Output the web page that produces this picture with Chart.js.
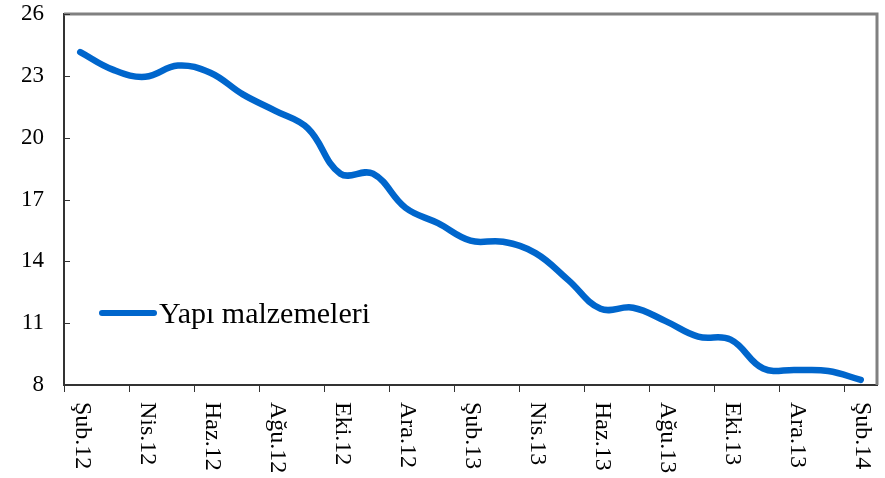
<html>
  <head>
    <script src="https://cdn.jsdelivr.net/npm/chart.js"></script>
    <style>
      body { margin: 0; background: #fff; }
      #wrap { width: 885px; height: 478px; }
    </style>
  </head>
  <body>
    <div id="wrap"><canvas id="myChart"></canvas></div>
    <script>
      // monthly, Feb 2012 - Feb 2014
      const months = ['Şub.12', 'Mar.12', 'Nis.12', 'May.12', 'Haz.12', 'Tem.12', 'Ağu.12', 'Eyl.12', 'Eki.12', 'Kas.12', 'Ara.12', 'Oca.13',
        'Şub.13', 'Mar.13', 'Nis.13', 'May.13', 'Haz.13', 'Tem.13', 'Ağu.13', 'Eyl.13', 'Eki.13', 'Kas.13', 'Ara.13', 'Oca.14', 'Şub.14'];
      const yapiMalzemeleri = [24.15, 23.3, 22.95, 23.5, 23.15, 22.1, 21.3, 20.45, 18.25, 18.25, 16.6, 15.85,
        15.0, 14.95, 14.4, 13.1, 11.7, 11.75, 11.1, 10.35, 10.2, 8.8, 8.73, 8.68, 8.25];
      const yTicks = [8, 11, 14, 17, 20, 23, 26];

      const serif = '"Liberation Serif", "Times New Roman", serif';
      const blue = 'rgb(0, 102, 204)';

      const data = {
        labels: months,
        datasets: [{
          label: 'Yapı malzemeleri',
          data: yapiMalzemeleri,
          fill: false,
          borderColor: blue,
          borderWidth: 6.5,
          tension: 0.4,
          pointRadius: 0,
          borderCapStyle: 'round',
          borderJoinStyle: 'round'
        }]
      };

      // frame, inner y ticks, rotated x labels and the legend
      const extras = {
        id: 'extras',
        beforeDatasetsDraw(chart) {
          const { ctx, chartArea: a, scales } = chart;
          ctx.save();
          ctx.strokeStyle = '#808080';
          ctx.lineWidth = 3;
          ctx.beginPath();
          ctx.moveTo(a.left, a.top);
          ctx.lineTo(a.right, a.top);
          ctx.lineTo(a.right, a.bottom);
          ctx.stroke();
          ctx.strokeStyle = '#333';
          ctx.lineWidth = 1;
          yTicks.forEach(v => {
            const y = Math.round(scales.y.getPixelForValue(v)) + 0.5;
            ctx.beginPath();
            ctx.moveTo(a.left, y);
            ctx.lineTo(a.left + 6, y);
            ctx.stroke();
          });
          ctx.restore();
        },
        afterDraw(chart) {
          const { ctx, chartArea: a, scales } = chart;
          ctx.save();
          ctx.fillStyle = '#000';
          ctx.font = '24px ' + serif;
          ctx.textAlign = 'left';
          ctx.textBaseline = 'middle';
          months.forEach((m, i) => {
            if (i % 2) return;
            const x = scales.x.getPixelForTick(i) + 2;
            ctx.save();
            ctx.translate(x, a.bottom + 17);
            ctx.rotate(Math.PI / 2);
            ctx.fillText(m, 0, 0);
            ctx.restore();
          });

          // legend
          const ds = chart.data.datasets[0];
          ctx.strokeStyle = ds.borderColor;
          ctx.lineWidth = 6;
          ctx.lineCap = 'round';
          ctx.beginPath();
          ctx.moveTo(102, 313);
          ctx.lineTo(154, 313);
          ctx.stroke();
          ctx.font = '30px ' + serif;
          ctx.textBaseline = 'alphabetic';
          ctx.fillText(ds.label, 159, 323);
          ctx.restore();
        }
      };

      const config = {
        type: 'line',
        data: data,
        plugins: [extras],
        options: {
          responsive: true,
          maintainAspectRatio: false,
          animation: false,
          layout: { padding: { top: 14, right: 8, left: 0, bottom: 0 } },
          plugins: {
            legend: { display: false },
            tooltip: { enabled: false }
          },
          scales: {
            x: {
              offset: true,
              afterFit: s => { s.height = 93; s.paddingLeft = 0; s.paddingRight = 0; },
              border: { color: '#333', width: 2 },
              grid: {
                offset: true,
                drawOnChartArea: false,
                drawTicks: true,
                tickLength: 7,
                tickWidth: 1,
                tickColor: c => (c.index % 2 === 0 ? '#333' : 'rgba(0,0,0,0)')
              },
              ticks: { display: false, autoSkip: false }
            },
            y: {
              min: 8,
              max: 26,
              afterFit: s => { s.width = 64; s.paddingTop = 0; s.paddingBottom = 0; },
              border: { color: '#333', width: 2 },
              grid: { drawOnChartArea: false, drawTicks: false },
              ticks: {
                stepSize: 3,
                padding: 20,
                color: '#000',
                font: { family: serif, size: 23 }
              }
            }
          }
        }
      };

      const ctx = document.getElementById('myChart').getContext('2d');
      const myChart = new Chart(ctx, config);
    </script>
  </body>
</html>
